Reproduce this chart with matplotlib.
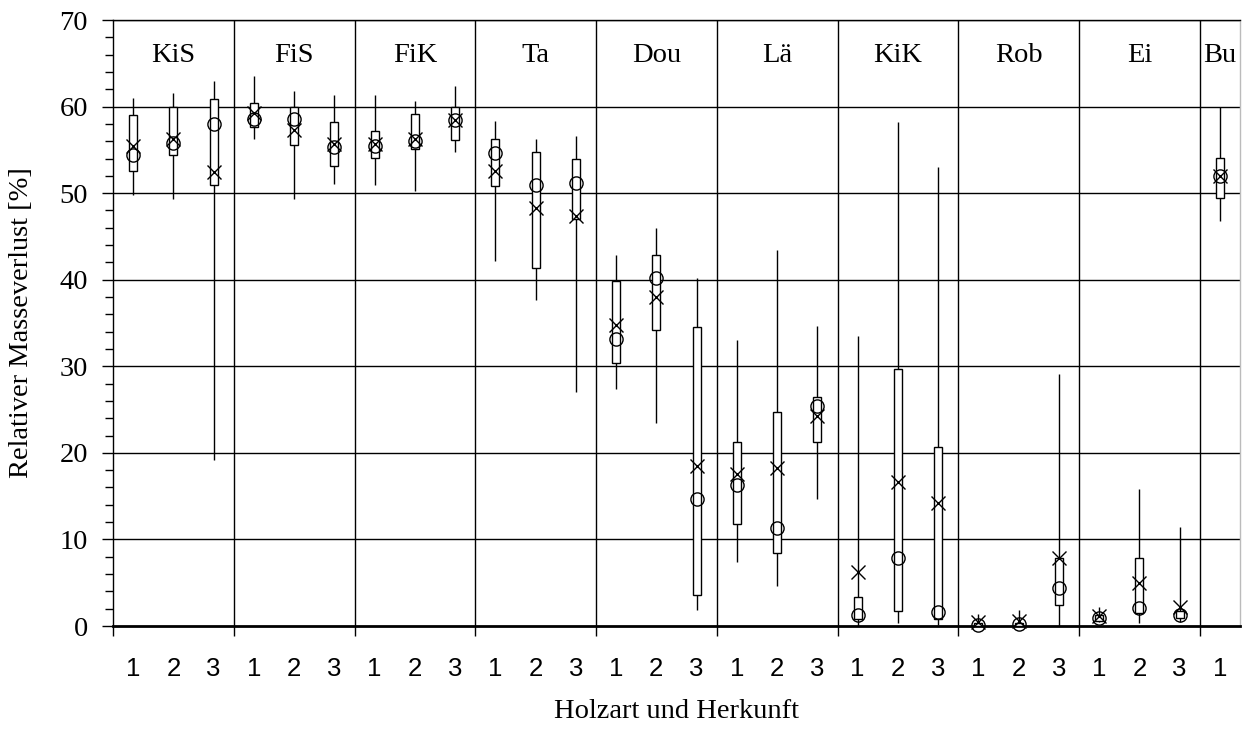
import numpy as np
import matplotlib
matplotlib.use("Agg")
import matplotlib.pyplot as plt
from matplotlib.ticker import MultipleLocator

# Holzarten und Anzahl Herkuenfte
groups = ["KiS", "FiS", "FiK", "Ta", "Dou", "Lä", "KiK", "Rob", "Ei", "Bu"]
n_origin = [3, 3, 3, 3, 3, 3, 3, 3, 3, 1]

# values per box, in plot order (KiS1, KiS2, KiS3, FiS1, ...)
whisker_low = [49.8, 49.3, 19.2, 56.3, 49.3, 51.0, 50.9, 50.3, 54.7,
               42.2, 37.7, 27.0, 27.4, 23.5, 1.9, 7.4, 4.6, 14.7,
               0.0, 0.4, 0.1, 0.0, 0.0, 0.0, 0.5, 0.3, 0.5, 46.8]
box_low = [52.6, 54.4, 50.9, 57.6, 55.6, 53.1, 54.1, 55.1, 56.1,
           50.8, 41.3, 47.0, 30.4, 34.2, 3.6, 11.8, 8.4, 21.2,
           0.8, 1.7, 0.8, 0.0, 0.0, 2.4, 0.6, 1.5, 0.9, 49.4]
box_high = [59.0, 60.0, 60.9, 60.4, 60.0, 58.2, 57.2, 59.1, 60.0,
            56.3, 54.8, 54.0, 39.9, 42.9, 34.5, 21.3, 24.7, 26.4,
            3.4, 29.7, 20.7, 0.4, 0.4, 7.8, 1.3, 7.8, 1.7, 54.1]
whisker_high = [61.0, 61.6, 62.9, 63.5, 61.8, 61.3, 61.3, 60.6, 62.4,
                58.3, 56.2, 56.6, 42.8, 46.0, 40.2, 33.0, 43.4, 34.7,
                33.5, 58.2, 53.0, 1.4, 1.8, 29.1, 2.2, 15.8, 11.4, 59.9]
median = [54.4, 55.8, 58.0, 58.6, 58.6, 55.3, 55.5, 56.0, 58.4,
          54.6, 50.9, 51.2, 33.2, 40.2, 14.7, 16.3, 11.3, 25.4,
          1.3, 7.9, 1.6, 0.15, 0.2, 4.4, 0.9, 2.1, 1.3, 52.0]
mean = [55.4, 56.3, 52.4, 59.3, 57.3, 55.7, 55.7, 56.3, 58.4,
        52.6, 48.3, 47.4, 34.8, 38.0, 18.5, 17.6, 18.3, 24.2,
        6.2, 16.6, 14.2, 0.5, 0.6, 7.8, 1.2, 5.0, 2.2, 52.0]

serif = "Liberation Serif"
narrow = ["Liberation Sans Narrow", "Liberation Sans", "DejaVu Sans"]

tick_labels = []
for n in n_origin:
    tick_labels += [str(k + 1) for k in range(n)]
pos = np.arange(len(tick_labels)) + 0.5
bounds = np.cumsum([0] + n_origin)

fig = plt.figure(figsize=(12.43, 7.31), dpi=100)
ax = fig.add_axes([113 / 1243, 1 - 626 / 731, (1240 - 113) / 1243, (626 - 20) / 731])
ax.set_xlim(0, len(tick_labels))
ax.set_ylim(0, 70)

# grid
for yv in range(10, 71, 10):
    ax.axhline(yv, color="black", lw=1, zorder=1)
for b in bounds[1:-1]:
    ax.axvline(b, color="black", lw=1, zorder=1)

# whiskers, boxes, markers
ax.vlines(pos, whisker_low, whisker_high, color="black", lw=1, zorder=2)
heights = np.array(box_high) - np.array(box_low)
ax.bar(pos, heights, bottom=box_low, width=0.2, facecolor="white",
       edgecolor="black", lw=1, zorder=3)
ax.plot(pos, median, ls="none", marker="o", ms=9.5, mfc="none", mec="black",
        mew=1, zorder=4, clip_on=False)
ax.plot(pos, mean, ls="none", marker="x", ms=9.5, mec="black", mew=1,
        zorder=5, clip_on=False)

# group names
for i, g in enumerate(groups):
    ax.text((bounds[i] + bounds[i + 1]) / 2, 65.9, g, ha="center", va="center",
            fontsize=20.5, family=serif)

# spines
for s in ["left", "top"]:
    ax.spines[s].set_linewidth(1)
ax.spines["bottom"].set_linewidth(2)
ax.spines["right"].set_color("#bbbbbb")
ax.spines["right"].set_linewidth(1)

# y axis
ax.yaxis.set_major_locator(MultipleLocator(10))
ax.yaxis.set_minor_locator(MultipleLocator(2))
ax.tick_params(axis="y", which="major", direction="out", length=8, width=1,
               pad=10, labelsize=20.5)
ax.tick_params(axis="y", which="minor", direction="out", length=5.8, width=1)
for lab in ax.get_yticklabels():
    lab.set_family(serif)

# x axis
ax.set_xticks(bounds[:-1])
ax.set_xticklabels([])
ax.tick_params(axis="x", which="major", direction="out", length=7, width=1)
ax.set_xticks(pos, minor=True)
ax.set_xticklabels(tick_labels, minor=True)
ax.tick_params(axis="x", which="minor", length=0, pad=22, labelsize=18.5)
for lab in ax.get_xticklabels(minor=True):
    lab.set_family(narrow)

fig.text(22 / 1243, 1 - 323 / 731, "Relativer Masseverlust [%]", rotation=90,
         ha="center", va="center", fontsize=20.5, family=serif)
fig.text(676 / 1243, 1 - 712 / 731, "Holzart und Herkunft", ha="center",
         va="center", fontsize=20.5, family=serif)

fig.savefig("out.png", dpi=100)
